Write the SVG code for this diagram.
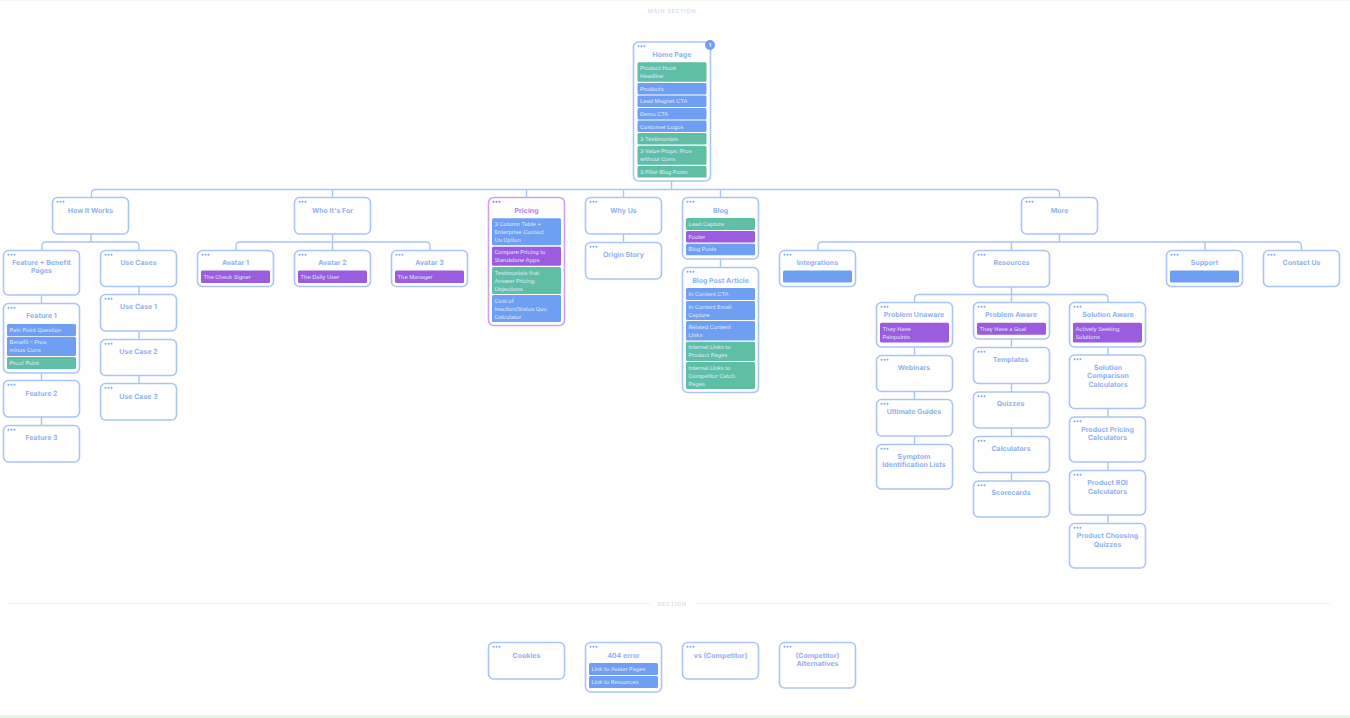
<svg xmlns="http://www.w3.org/2000/svg" width="1350" height="718" viewBox="0 0 1350 718">
<style>
text{font-family:Inter,"Liberation Sans",sans-serif;text-rendering:geometricPrecision}
.n{fill:#fff;stroke:#a9c5f5;stroke-width:1.6}
.np{fill:#fff;stroke:#cf9fec;stroke-width:1.6}
.t{font-size:7px;font-weight:700;fill:#8fb2f1;text-anchor:middle}
.tp{font-size:7px;font-weight:700;fill:#b67fe2;text-anchor:middle}
.l{font-size:5.6px;fill:#e2ebfb}
.g{fill:#5fbfa6}.b{fill:#6f9ff3}.p{fill:#9b5ce0}
.c{fill:none;stroke:#a9c5f5;stroke-width:1.4}
.s{font-size:5.6px;font-weight:500;letter-spacing:.6px;fill:#d3dbe6;text-anchor:middle}
.dv{stroke:#eff2f5;stroke-width:1}
</style>
<defs>
<g id="d" fill="#7ea6f2"><circle cx="5" cy="4.3" r="1"/><circle cx="8" cy="4.3" r="1"/><circle cx="11" cy="4.3" r="1"/></g>
<g id="dp" fill="#a86be0"><circle cx="5" cy="4.3" r="1"/><circle cx="8" cy="4.3" r="1"/><circle cx="11" cy="4.3" r="1"/></g>
</defs>
<rect width="1350" height="718" fill="#fff"/>
<rect y="715" width="1350" height="3" fill="#e8f5e4"/>
<rect width="1350" height="0.6" fill="#eef7ea"/>
<text class="s" x="672" y="13">MAIN SECTION</text>
<g id="section-divider"><line class="dv" x1="8" y1="603.5" x2="650" y2="603.5"/><line class="dv" x1="695" y1="603.5" x2="1330" y2="603.5"/><text class="s" x="672" y="606">SECTION</text></g>

<g id="connectors">
<path class="c" d="M671.5 181V189.5M91.5 197V193.5Q91.5 189.5 95.5 189.5H1055.5Q1059.5 189.5 1059.5 193.5V197M332.5 189.5V197M526.5 189.5V197M623.5 189.5V197M720.5 189.5V197"/>
<path class="c" d="M91 234V242M42 250V246Q42 242 46 242H135Q139 242 139 246V250"/>
<path class="c" d="M332.5 234V250M236 250V246Q236 242 240 242H426Q430 242 430 246V250"/>
<path class="c" d="M1059.5 234V242M818 250V246Q818 242 822 242H1297.5Q1301.5 242 1301.5 246V250M1011.5 242V250M1205 242V250"/>
<path class="c" d="M1011.5 287V302M914.5 302V298.5Q914.5 294.5 918.5 294.5H1104Q1108 294.5 1108 298.5V302"/>
<path class="c" d="M41.5 295V303M41.5 373V380M41.5 417V425M139 286V294M139 331V339M139 375V383M623.5 234V242M720.5 259V267"/>
<path class="c" d="M914.5 347V355M914.5 391V399M914.5 436V444M1011.5 339V347M1011.5 383V392M1011.5 428V436M1011.5 472V481M1108 347V355M1108 409V417M1108 462V470M1108 515V523"/>
</g>

<g id="home"><rect class="n" x="633.5" y="42" width="77" height="139" rx="5"/><use href="#d" x="633.5" y="42"/><text class="t" x="672" y="56.5">Home Page</text>
<rect class="g" x="637.5" y="62.3" width="69" height="19.5" rx="1.5"/><rect class="b" x="637.5" y="83" width="69" height="11.5" rx="1.5"/><rect class="b" x="637.5" y="95.5" width="69" height="11.5" rx="1.5"/><rect class="b" x="637.5" y="108" width="69" height="11.5" rx="1.5"/><rect class="b" x="637.5" y="120.5" width="69" height="11.5" rx="1.5"/><rect class="g" x="637.5" y="133" width="69" height="11.5" rx="1.5"/><rect class="g" x="637.5" y="145.7" width="69" height="19" rx="1.5"/><rect class="g" x="637.5" y="166" width="69" height="11.5" rx="1.5"/>
<text class="l" x="640" y="70">Product Hook</text><text class="l" x="640" y="78">Headline</text><text class="l" x="640" y="90.5">Products</text><text class="l" x="640" y="103">Lead Magnet CTA</text><text class="l" x="640" y="115.5">Demo CTA</text><text class="l" x="640" y="128.5">Customer Logos</text><text class="l" x="640" y="141">3 Testimonials</text><text class="l" x="640" y="153">3 Value Props: Pros</text><text class="l" x="640" y="161">without Cons</text><text class="l" x="640" y="174">3 Pillar Blog Posts</text>
<circle cx="710" cy="45" r="5" fill="#6f9ff3"/><text x="710" y="47" font-size="5.5" font-weight="600" fill="#fff" text-anchor="middle">1</text></g>

<g id="how-it-works"><rect class="n" x="52.5" y="197.5" width="76" height="36.5" rx="5"/><use href="#d" x="52.5" y="197.5"/><text class="t" x="90.5" y="212.5">How It Works</text></g>
<g id="who"><rect class="n" x="294.5" y="197.5" width="76" height="36.5" rx="5"/><use href="#d" x="294.5" y="197.5"/><text class="t" x="332.5" y="212.5">Who It's For</text></g>
<g id="pricing"><rect class="np" x="488.5" y="197.5" width="76" height="128" rx="5"/><use href="#dp" x="488.5" y="197.5"/><text class="tp" x="526.5" y="212.5">Pricing</text>
<rect class="b" x="492" y="218.3" width="69" height="27" rx="1.5"/><rect class="p" x="492" y="246.7" width="69" height="19" rx="1.5"/><rect class="g" x="492" y="267" width="69" height="27" rx="1.5"/><rect class="b" x="492" y="295" width="69" height="27" rx="1.5"/>
<text class="l" x="494.5" y="226">3 Column Table +</text><text class="l" x="494.5" y="234">Enterprise Contact</text><text class="l" x="494.5" y="242">Us Option</text><text class="l" x="494.5" y="254">Compare Pricing to</text><text class="l" x="494.5" y="262">Standalone Apps</text><text class="l" x="494.5" y="274.5">Testimonials that</text><text class="l" x="494.5" y="282.5">Answer Pricing</text><text class="l" x="494.5" y="290.5">Objections</text><text class="l" x="494.5" y="302.5">Cost of</text><text class="l" x="494.5" y="310.5">Inaction/Status Quo</text><text class="l" x="494.5" y="318.5">Calculator</text></g>
<g id="why-us"><rect class="n" x="585.5" y="197.5" width="76" height="36.5" rx="5"/><use href="#d" x="585.5" y="197.5"/><text class="t" x="623.5" y="212.5">Why Us</text></g>
<g id="origin-story"><rect class="n" x="585.5" y="242.5" width="76" height="36.5" rx="5"/><use href="#d" x="585.5" y="242.5"/><text class="t" x="623.5" y="257">Origin Story</text></g>
<g id="blog"><rect class="n" x="682.5" y="197.5" width="76" height="61.5" rx="5"/><use href="#d" x="682.5" y="197.5"/><text class="t" x="720.5" y="212.5">Blog</text>
<rect class="g" x="686" y="218" width="69" height="12" rx="1.5"/><rect class="p" x="686" y="231" width="69" height="11.5" rx="1.5"/><rect class="b" x="686" y="243.7" width="69" height="11.5" rx="1.5"/>
<text class="l" x="688.5" y="226">Lead Capture</text><text class="l" x="688.5" y="238.5">Footer</text><text class="l" x="688.5" y="251">Blog Posts</text></g>
<g id="blog-post"><rect class="n" x="682.5" y="267.5" width="76" height="125" rx="5"/><use href="#d" x="682.5" y="267.5"/><text class="t" x="720.5" y="282.5">Blog Post Article</text>
<rect class="b" x="686" y="288" width="69" height="12" rx="1.5"/><rect class="b" x="686" y="301" width="69" height="19" rx="1.5"/><rect class="b" x="686" y="321" width="69" height="19.5" rx="1.5"/><rect class="g" x="686" y="341.7" width="69" height="19.3" rx="1.5"/><rect class="g" x="686" y="362" width="69" height="27" rx="1.5"/>
<text class="l" x="688.5" y="296">In Content CTA</text><text class="l" x="688.5" y="308.5">In Content Email</text><text class="l" x="688.5" y="316.5">Capture</text><text class="l" x="688.5" y="329">Related Content</text><text class="l" x="688.5" y="337">Links</text><text class="l" x="688.5" y="349">Internal Links to</text><text class="l" x="688.5" y="357">Product Pages</text><text class="l" x="688.5" y="369.5">Internal Links to</text><text class="l" x="688.5" y="377.5">Competitor Catch</text><text class="l" x="688.5" y="385.5">Pages</text></g>
<g id="more"><rect class="n" x="1021.5" y="197.5" width="76" height="36.5" rx="5"/><use href="#d" x="1021.5" y="197.5"/><text class="t" x="1059.5" y="212.5">More</text></g>

<g id="feature-benefit"><rect class="n" x="3.5" y="250.5" width="76" height="44.5" rx="5"/><use href="#d" x="3.5" y="250.5"/><text class="t" x="41.5" y="264.5">Feature + Benefit</text><text class="t" x="41.5" y="273">Pages</text></g>
<g id="feature-1"><rect class="n" x="3.5" y="303.5" width="76" height="69.5" rx="5"/><use href="#d" x="3.5" y="303.5"/><text class="t" x="41.5" y="318">Feature 1</text>
<rect class="b" x="7" y="324" width="69" height="12" rx="1.5"/><rect class="b" x="7" y="336.7" width="69" height="19.3" rx="1.5"/><rect class="g" x="7" y="357" width="69" height="12" rx="1.5"/>
<text class="l" x="9.5" y="332">Pain Point Question</text><text class="l" x="9.5" y="344">Benefit – Pros</text><text class="l" x="9.5" y="352">minus Cons</text><text class="l" x="9.5" y="365">Proof Point</text></g>
<g id="feature-2"><rect class="n" x="3.5" y="380.5" width="76" height="36.5" rx="5"/><use href="#d" x="3.5" y="380.5"/><text class="t" x="41.5" y="395.5">Feature 2</text></g>
<g id="feature-3"><rect class="n" x="3.5" y="425.5" width="76" height="36.5" rx="5"/><use href="#d" x="3.5" y="425.5"/><text class="t" x="41.5" y="440">Feature 3</text></g>
<g id="use-cases"><rect class="n" x="100.5" y="250.5" width="76" height="36" rx="5"/><use href="#d" x="100.5" y="250.5"/><text class="t" x="138.5" y="264.5">Use Cases</text></g>
<g id="use-case-1"><rect class="n" x="100.5" y="294.5" width="76" height="36.5" rx="5"/><use href="#d" x="100.5" y="294.5"/><text class="t" x="138.5" y="309">Use Case 1</text></g>
<g id="use-case-2"><rect class="n" x="100.5" y="339.5" width="76" height="36" rx="5"/><use href="#d" x="100.5" y="339.5"/><text class="t" x="138.5" y="354">Use Case 2</text></g>
<g id="use-case-3"><rect class="n" x="100.5" y="383.5" width="76" height="36.5" rx="5"/><use href="#d" x="100.5" y="383.5"/><text class="t" x="138.5" y="398.5">Use Case 3</text></g>

<g id="avatar-1"><rect class="n" x="197.5" y="250.5" width="76" height="36" rx="5"/><use href="#d" x="197.5" y="250.5"/><text class="t" x="235.5" y="264.5">Avatar 1</text><rect class="p" x="201" y="270.5" width="69" height="12.5" rx="1.5"/><text class="l" x="203.5" y="278.5">The Check Signer</text></g>
<g id="avatar-2"><rect class="n" x="294.5" y="250.5" width="76" height="36" rx="5"/><use href="#d" x="294.5" y="250.5"/><text class="t" x="332.5" y="264.5">Avatar 2</text><rect class="p" x="298" y="270.5" width="69" height="12.5" rx="1.5"/><text class="l" x="300.5" y="278.5">The Daily User</text></g>
<g id="avatar-3"><rect class="n" x="391.5" y="250.5" width="76" height="36" rx="5"/><use href="#d" x="391.5" y="250.5"/><text class="t" x="429.5" y="264.5">Avatar 3</text><rect class="p" x="395" y="270.5" width="69" height="12.5" rx="1.5"/><text class="l" x="397.5" y="278.5">The Manager</text></g>

<g id="integrations"><rect class="n" x="779.5" y="250.5" width="76" height="36" rx="5"/><use href="#d" x="779.5" y="250.5"/><text class="t" x="817.5" y="264.5">Integrations</text><rect class="b" x="783" y="270.5" width="69" height="12" rx="1.5"/></g>
<g id="resources"><rect class="n" x="973.5" y="250.5" width="76" height="36.5" rx="5"/><use href="#d" x="973.5" y="250.5"/><text class="t" x="1011.5" y="264.5">Resources</text></g>
<g id="support"><rect class="n" x="1166.5" y="250.5" width="76" height="36" rx="5"/><use href="#d" x="1166.5" y="250.5"/><text class="t" x="1204.5" y="264.5">Support</text><rect class="b" x="1170" y="270.5" width="69" height="12" rx="1.5"/></g>
<g id="contact-us"><rect class="n" x="1263.5" y="250.5" width="76" height="36" rx="5"/><use href="#d" x="1263.5" y="250.5"/><text class="t" x="1301.5" y="264.5">Contact Us</text></g>

<g id="problem-unaware"><rect class="n" x="876.5" y="302.5" width="76" height="44.5" rx="5"/><use href="#d" x="876.5" y="302.5"/><text class="t" x="914" y="317">Problem Unaware</text><rect class="p" x="880" y="322.7" width="69" height="19.8" rx="1.5"/><text class="l" x="882.5" y="330.5">They Have</text><text class="l" x="882.5" y="338.5">Painpoints</text></g>
<g id="webinars"><rect class="n" x="876.5" y="355.5" width="76" height="36" rx="5"/><use href="#d" x="876.5" y="355.5"/><text class="t" x="914" y="369.5">Webinars</text></g>
<g id="ultimate-guides"><rect class="n" x="876.5" y="399.5" width="76" height="36.5" rx="5"/><use href="#d" x="876.5" y="399.5"/><text class="t" x="914" y="414">Ultimate Guides</text></g>
<g id="symptom"><rect class="n" x="876.5" y="444.5" width="76" height="44.5" rx="5"/><use href="#d" x="876.5" y="444.5"/><text class="t" x="914" y="458.5">Symptom</text><text class="t" x="914" y="467">Identification Lists</text></g>

<g id="problem-aware"><rect class="n" x="973.5" y="302.5" width="76" height="36.5" rx="5"/><use href="#d" x="973.5" y="302.5"/><text class="t" x="1011" y="317">Problem Aware</text><rect class="p" x="977" y="322.7" width="69" height="12" rx="1.5"/><text class="l" x="979.5" y="330.5">They Have a Goal</text></g>
<g id="templates"><rect class="n" x="973.5" y="347.5" width="76" height="36" rx="5"/><use href="#d" x="973.5" y="347.5"/><text class="t" x="1010.5" y="361.5">Templates</text></g>
<g id="quizzes"><rect class="n" x="973.5" y="392" width="76" height="36" rx="5"/><use href="#d" x="973.5" y="392"/><text class="t" x="1010.5" y="406">Quizzes</text></g>
<g id="calculators"><rect class="n" x="973.5" y="436.5" width="76" height="36" rx="5"/><use href="#d" x="973.5" y="436.5"/><text class="t" x="1011" y="450.5">Calculators</text></g>
<g id="scorecards"><rect class="n" x="973.5" y="481" width="76" height="36" rx="5"/><use href="#d" x="973.5" y="481"/><text class="t" x="1011" y="495">Scorecards</text></g>

<g id="solution-aware"><rect class="n" x="1069.5" y="302.5" width="76" height="44.5" rx="5"/><use href="#d" x="1069.5" y="302.5"/><text class="t" x="1108" y="317">Solution Aware</text><rect class="p" x="1073" y="322.7" width="69" height="19.8" rx="1.5"/><text class="l" x="1075.5" y="330.5">Actively Seeking</text><text class="l" x="1075.5" y="338.5">Solutions</text></g>
<g id="solution-comparison"><rect class="n" x="1069.5" y="355" width="76" height="53.5" rx="5"/><use href="#d" x="1069.5" y="355"/><text class="t" x="1108" y="369.5">Solution</text><text class="t" x="1108" y="378">Comparison</text><text class="t" x="1108" y="387">Calculators</text></g>
<g id="product-pricing"><rect class="n" x="1069.5" y="417" width="76" height="45" rx="5"/><use href="#d" x="1069.5" y="417"/><text class="t" x="1107.5" y="431.5">Product Pricing</text><text class="t" x="1107.5" y="440">Calculators</text></g>
<g id="product-roi"><rect class="n" x="1069.5" y="470.5" width="76" height="44.5" rx="5"/><use href="#d" x="1069.5" y="470.5"/><text class="t" x="1107.5" y="485">Product ROI</text><text class="t" x="1107.5" y="493.5">Calculators</text></g>
<g id="product-choosing"><rect class="n" x="1069.5" y="523.5" width="76" height="44.5" rx="5"/><use href="#d" x="1069.5" y="523.5"/><text class="t" x="1107.5" y="538">Product Choosing</text><text class="t" x="1107.5" y="546.5">Quizzes</text></g>

<g id="cookies"><rect class="n" x="488.5" y="642.5" width="76" height="36.5" rx="5"/><use href="#d" x="488.5" y="642.5"/><text class="t" x="526.5" y="657.5">Cookies</text></g>
<g id="error-404"><rect class="n" x="585.5" y="642.5" width="76" height="49.5" rx="5"/><use href="#d" x="585.5" y="642.5"/><text class="t" x="623.5" y="657.5">404 error</text><rect class="b" x="589" y="663" width="69" height="12" rx="1.5"/><rect class="b" x="589" y="676" width="69" height="12" rx="1.5"/><text class="l" x="591.5" y="671">Link to Avatar Pages</text><text class="l" x="591.5" y="684">Link to Resources</text></g>
<g id="vs-competitor"><rect class="n" x="682.5" y="642.5" width="76" height="36.5" rx="5"/><use href="#d" x="682.5" y="642.5"/><text class="t" x="720.5" y="657.5">vs (Competitor)</text></g>
<g id="alternatives"><rect class="n" x="779.5" y="642.5" width="76" height="45.5" rx="5"/><use href="#d" x="779.5" y="642.5"/><text class="t" x="817.5" y="657.5">(Competitor)</text><text class="t" x="817.5" y="666">Alternatives</text></g>
</svg>
